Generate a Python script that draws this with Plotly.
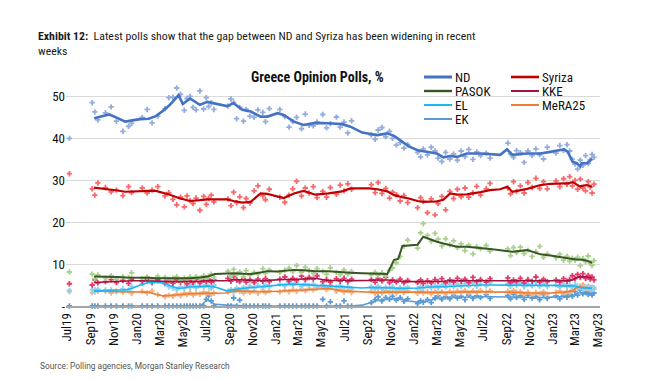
import plotly.graph_objects as go

# ---------------- data ----------------
trend_dates = [
    "2019-09-10","2019-10-01","2019-10-20","2019-11-10","2019-12-01","2019-12-20","2020-01-10","2020-02-01","2020-02-20","2020-03-10",
    "2020-03-28","2020-04-20","2020-05-01","2020-05-20","2020-06-15","2020-07-05","2020-07-25","2020-08-25","2020-09-12","2020-10-05",
    "2020-10-27","2020-11-22","2020-12-10","2021-01-06","2021-01-22","2021-02-18","2021-03-15","2021-04-16","2021-05-20","2021-06-25",
    "2021-07-17","2021-08-17","2021-09-05","2021-09-26","2021-10-22","2021-11-09","2021-11-20","2021-12-01","2021-12-18","2022-01-10",
    "2022-01-25","2022-02-05","2022-03-02","2022-03-19","2022-04-06","2022-04-24","2022-05-20","2022-06-25","2022-07-20","2022-08-16",
    "2022-09-03","2022-09-17","2022-10-26","2022-11-30","2022-12-26","2023-02-01","2023-02-10","2023-02-23","2023-03-06","2023-03-15",
    "2023-03-19","2023-04-02","2023-04-15",
]

nd_trend = [
    44.7,45.2,45.6,44.8,43.9,44.2,44.5,44.6,45.2,46.5,
    47.9,50.2,48.1,49.4,47.9,48.6,48.2,47.6,48.3,46.7,
    46.3,45.1,45.1,45.9,45.5,43.9,43.1,43.6,43.5,43.3,
    42.7,41.3,41.0,40.7,41.1,40.5,39.8,39.1,38.0,37.1,
    36.9,36.7,36.3,35.4,35.7,35.5,36.3,36.3,36.1,36.0,
    37.3,36.0,36.3,36.3,36.7,37.3,36.7,34.3,34.0,33.2,
    34.0,34.0,35.1,
]
syriza_trend = [
    28.2,28.0,27.8,27.5,27.2,27.3,27.3,27.4,27.4,27.0,
    26.5,25.7,25.5,25.0,25.2,25.4,25.4,25.4,25.0,24.6,
    24.8,26.8,26.7,26.0,25.7,26.8,27.4,26.5,26.8,27.3,
    28.0,28.0,28.0,27.8,27.3,26.4,26.1,25.9,25.6,25.0,
    24.8,24.8,24.9,25.3,26.8,26.5,26.6,27.1,27.6,27.8,
    28.4,27.2,27.9,28.8,29.1,29.2,29.2,29.5,29.0,28.4,
    28.6,28.8,28.4,
]
pasok_trend = [
    7.0,7.0,6.9,6.9,6.8,6.8,6.7,6.7,6.6,6.6,
    6.6,6.6,6.6,6.6,6.8,7.0,7.6,7.8,7.8,7.7,
    7.6,8.0,8.3,8.2,8.3,8.6,8.5,8.3,8.3,8.0,
    7.9,7.8,7.7,7.6,7.6,11.0,11.2,14.3,14.5,14.6,
    16.5,16.1,15.3,14.9,14.5,14.1,14.1,13.9,13.6,13.3,
    13.1,12.9,13.3,12.3,12.0,11.4,11.3,11.2,11.1,11.1,
    11.0,10.8,10.3,
]
kke_trend = [
    5.6,5.7,5.8,5.9,6.0,6.0,6.0,6.0,6.0,5.9,
    5.8,5.8,5.8,5.8,5.9,6.0,6.0,6.0,6.3,6.2,
    6.0,6.0,6.1,6.3,6.3,6.3,6.5,6.6,6.0,6.2,
    6.0,6.0,6.1,6.2,6.2,6.0,6.0,5.9,5.8,5.8,
    5.8,5.8,5.9,5.9,6.0,6.0,6.0,6.0,6.0,6.0,
    6.0,6.0,6.0,6.0,6.0,6.0,6.0,6.2,6.8,7.0,
    7.0,6.9,6.6,
]
el_trend = [
    3.6,3.7,3.7,3.8,3.8,4.2,5.0,5.6,5.6,5.5,
    4.8,4.2,4.3,4.6,4.6,4.8,4.5,3.6,3.9,4.2,
    4.4,4.6,4.8,5.0,5.1,5.2,5.0,4.9,4.8,4.6,
    4.4,4.3,4.4,4.4,4.3,4.3,4.2,4.2,4.2,4.3,
    4.4,4.5,4.6,4.6,4.7,4.8,4.9,5.0,5.0,5.0,
    5.0,5.0,5.0,5.0,4.9,4.8,4.8,4.8,4.6,4.4,
    4.3,4.3,4.2,
]
mera_trend = [
    3.6,3.5,3.5,3.4,3.4,3.4,3.4,3.3,2.8,2.4,
    2.5,2.7,2.8,2.9,3.0,3.0,3.0,3.1,3.6,3.5,
    3.4,3.4,3.4,3.5,3.5,3.6,3.8,4.0,4.2,3.6,
    3.5,3.4,3.3,3.2,3.3,3.3,3.4,3.4,3.4,3.3,
    3.3,3.2,3.2,3.2,3.3,3.3,3.4,3.4,3.4,3.4,
    3.4,3.3,3.1,3.0,3.1,3.3,3.4,3.6,4.4,4.6,
    4.5,4.4,4.2,
]
ek_trend = [
    0,0,0,0,0,0,0,0,0,0,
    0,0,0,0,0,1.5,0.4,0.2,0.1,0,
    0,0,0,0,0,0,0,0,0,0,
    0,0.2,0.8,1.3,1.6,1.8,1.8,1.6,1.2,0.9,
    1.0,1.2,1.8,2.0,2.1,2.1,2.2,2.2,2.2,2.2,
    2.2,2.1,2.1,2.0,2.1,2.2,2.3,2.5,3.0,3.2,
    3.1,3.0,2.9,
]

poll_dates = [
    "2019-07-07",
    "2019-09-05","2019-09-12","2019-09-20","2019-10-10","2019-10-25","2019-11-08","2019-11-25","2019-12-10","2019-12-18",
    "2020-01-15","2020-01-28","2020-02-10","2020-02-25","2020-03-15","2020-03-25","2020-04-05","2020-04-15","2020-04-25","2020-05-05",
    "2020-05-12","2020-05-20","2020-05-28","2020-06-05","2020-06-15","2020-06-25","2020-07-02","2020-07-08","2020-07-15","2020-07-22",
    "2020-08-28","2020-09-05","2020-09-12","2020-09-20","2020-09-28","2020-10-08","2020-10-15","2020-10-25","2020-11-05","2020-11-15",
    "2020-11-28","2020-12-05","2020-12-15",
    "2021-01-12","2021-01-25","2021-02-05","2021-02-15","2021-02-25","2021-03-10","2021-03-20","2021-03-30","2021-04-10","2021-04-20",
    "2021-05-05","2021-05-15","2021-05-25","2021-06-10","2021-06-20","2021-06-30","2021-07-10","2021-07-20","2021-09-10","2021-09-20",
    "2021-09-28","2021-10-08","2021-10-18","2021-10-28","2021-11-05","2021-11-15","2021-11-25","2021-12-05","2021-12-15",
    "2022-01-10","2022-01-18","2022-01-25","2022-02-05","2022-02-15","2022-02-25","2022-03-05","2022-03-15","2022-03-25","2022-04-05",
    "2022-04-15","2022-04-25","2022-05-05","2022-05-15","2022-05-25","2022-06-05","2022-06-15","2022-06-25","2022-07-10","2022-07-20",
    "2022-09-05","2022-09-12","2022-09-20","2022-09-28","2022-10-08","2022-10-18","2022-10-28","2022-11-08","2022-11-18","2022-11-28",
    "2022-12-08","2022-12-18",
    "2023-01-10","2023-01-20","2023-01-30","2023-02-08","2023-02-15","2023-02-22","2023-03-01","2023-03-08","2023-03-15","2023-03-22",
    "2023-03-29","2023-04-05","2023-04-10","2023-04-15","2023-04-20",
]

nd_polls = [
    39.9,
    48.4,46.2,44.3,46.0,47.4,44.0,41.6,42.8,43.5,
    44.9,46.8,43.6,45.2,47.0,49.6,49.7,51.9,50.4,46.6,
    49.4,49.9,47.3,46.7,51.2,46.9,49.6,47.5,48.4,46.8,
    47.6,49.3,48.5,44.6,47.3,44.0,46.8,45.2,44.9,46.7,
    46.1,43.9,47.0,
    46.8,45.1,42.6,43.9,44.9,42.2,45.7,43.0,42.9,43.8,
    45.6,42.4,43.4,45.0,42.6,43.8,41.2,44.1,40.7,39.7,
    41.9,42.5,40.3,41.6,39.9,38.3,38.9,37.6,38.4,
    36.6,35.5,37.4,36.0,37.8,36.9,35.2,34.4,36.6,35.0,
    36.2,34.7,36.9,35.6,37.3,34.9,36.7,35.8,36.4,35.2,
    38.8,36.2,35.4,37.0,36.5,34.2,36.9,35.8,37.4,36.0,
    35.0,37.8,
    36.4,38.2,37.0,38.4,36.9,34.9,33.8,32.6,34.7,33.5,
    35.8,33.9,34.8,36.1,35.4,
]
syriza_polls = [
    31.5,
    27.9,26.4,29.3,28.2,27.2,27.6,26.3,28.4,27.0,
    28.1,26.9,27.6,28.4,26.2,27.0,25.4,24.1,25.9,23.6,
    26.2,25.1,24.4,25.7,22.8,26.1,24.2,25.6,26.4,24.8,
    25.5,23.9,27.1,24.6,26.0,23.4,25.6,24.5,27.4,28.6,
    26.2,25.3,27.8,
    25.9,24.7,26.4,27.9,29.7,26.2,28.1,26.9,28.4,25.8,
    27.3,25.9,28.2,26.6,28.8,27.4,29.1,27.8,28.9,27.0,
    29.4,26.8,28.0,25.7,27.1,26.5,25.0,26.3,24.6,
    23.4,25.8,24.9,22.2,25.5,21.7,24.4,26.1,22.9,27.3,
    25.6,27.8,26.0,28.1,25.9,26.9,28.5,26.4,27.9,29.2,
    28.1,26.7,29.6,27.3,28.6,26.9,29.4,28.2,30.4,28.0,
    29.6,27.9,
    29.8,28.4,30.3,29.0,30.8,28.6,29.9,27.8,30.2,28.1,
    27.4,29.6,28.3,26.9,29.0,
]
pasok_polls = [
    8.1,
    7.6,6.5,7.4,6.6,7.2,6.4,7.0,6.8,7.9,
    6.5,6.9,6.2,7.1,6.8,6.3,6.6,7.0,6.1,6.7,
    6.3,6.9,6.4,7.0,6.6,7.2,6.5,7.1,7.6,6.8,
    8.3,7.2,8.7,7.5,8.1,7.0,8.4,7.3,8.0,7.6,
    8.9,7.8,8.6,
    8.0,8.5,9.0,8.2,9.6,8.1,9.2,8.4,7.8,8.9,
    8.3,7.6,9.1,8.0,7.5,8.6,7.6,8.2,7.4,8.0,
    7.3,7.9,7.2,8.5,9.1,10.3,11.8,14.2,15.7,
    13.8,17.4,19.6,16.8,15.4,17.3,15.9,14.3,16.0,14.6,
    15.5,13.9,14.8,13.2,14.5,12.4,14.1,13.6,14.4,13.1,
    13.6,12.0,13.9,12.7,14.0,12.5,13.3,11.8,12.9,14.2,
    11.6,12.4,
    11.5,12.3,10.9,11.8,10.7,11.4,10.9,11.6,9.6,11.3,
    10.6,11.9,10.2,9.7,10.8,
]
kke_polls = [
    5.3,
    5.0,6.2,5.5,5.8,6.3,5.6,6.1,5.4,6.4,
    5.9,6.4,5.7,6.2,5.5,6.0,5.4,6.2,5.7,6.1,
    5.3,6.0,5.6,6.3,5.5,6.1,5.8,6.4,5.7,6.2,
    6.6,5.9,7.0,6.2,5.8,6.5,5.7,6.3,5.6,6.4,
    5.9,6.5,5.8,
    6.4,6.9,5.9,6.6,6.1,7.1,6.3,6.8,6.4,7.2,
    5.8,6.3,5.7,6.5,5.9,6.6,5.8,6.4,6.3,5.7,
    6.6,6.0,6.8,5.6,6.2,5.7,6.4,5.5,6.1,
    5.6,6.2,5.4,6.0,5.5,6.3,5.8,6.5,5.5,6.2,
    5.7,6.6,5.9,6.4,5.6,6.8,5.8,6.3,5.7,6.5,
    6.7,5.6,6.2,5.8,6.6,5.5,6.3,5.9,6.9,5.7,
    6.4,5.8,
    6.2,5.7,6.5,5.9,6.3,7.2,6.5,7.5,6.8,7.7,
    6.6,7.3,6.4,6.9,6.2,
]
el_polls = [
    3.7,
    3.9,3.3,4.0,3.5,3.8,3.4,4.1,3.7,4.6,
    5.3,5.8,5.4,6.0,5.2,4.6,4.3,3.9,4.6,4.2,
    4.8,4.4,5.0,4.3,4.9,4.5,5.1,4.6,4.2,5.0,
    3.5,3.9,3.4,4.3,3.8,4.5,4.0,4.7,4.2,4.9,
    4.4,5.0,4.6,
    5.2,4.8,5.5,5.0,5.6,4.7,5.3,4.9,5.2,4.6,
    5.1,4.5,4.9,4.4,4.9,4.3,4.6,4.1,4.6,4.1,
    4.7,4.0,4.5,4.2,4.6,3.9,4.4,4.0,4.5,
    4.1,4.6,4.2,4.8,4.3,4.9,4.4,5.0,4.5,5.1,
    4.6,5.2,4.7,5.3,4.8,5.4,4.7,5.2,4.8,5.5,
    5.3,4.7,5.5,4.9,5.4,4.6,5.2,4.8,5.6,4.7,
    5.3,4.6,
    5.1,4.5,5.2,4.6,5.0,4.4,5.1,4.3,4.8,4.0,
    4.6,4.1,4.5,3.9,4.4,
]
mera_polls = [
    3.4,
    3.2,3.9,3.5,3.8,3.1,3.6,3.3,3.7,3.0,
    3.5,3.1,3.6,2.7,2.2,2.6,2.3,2.9,2.5,3.1,
    2.7,3.2,2.6,3.0,2.8,3.3,2.9,3.2,2.7,3.1,
    3.4,3.9,3.3,3.8,3.5,3.1,3.7,3.2,3.6,3.0,
    3.7,3.2,3.6,
    3.3,3.8,3.4,3.9,3.5,4.0,3.6,4.2,3.8,4.3,
    4.5,3.9,4.4,3.5,3.9,3.3,3.7,3.2,3.5,3.0,
    3.4,3.1,3.6,3.2,3.5,3.1,3.7,3.2,3.6,
    3.0,3.5,3.1,3.4,2.9,3.5,3.0,3.4,2.9,3.5,
    3.1,3.6,3.2,3.7,3.1,3.6,3.2,3.7,3.3,3.6,
    3.5,3.1,3.7,3.2,3.4,2.8,3.3,2.7,3.2,2.9,
    3.4,2.8,
    3.2,3.6,3.0,3.5,3.1,3.8,4.3,4.8,4.4,5.1,
    4.2,4.7,3.9,4.5,4.0,
]
ek_polls = [
    0,
    0,0,0,0,0,0,0,0,0,
    0,0,0,0,0,0,0,0,0,0,
    0,0,0,0,0,0,1.6,2.4,1.2,0,
    0,0,1.9,0,1.4,0,0,0,0,0,
    0,0,0,
    0,0,0,0,0,0,0,0,0,0,
    1.6,0,1.0,0,0,1.2,0,0,0.8,1.5,
    2.2,1.2,2.0,1.6,2.3,1.4,2.0,1.1,1.7,
    0.6,1.2,0.9,1.5,0.8,1.9,2.4,1.6,2.2,1.7,
    2.5,1.9,2.3,1.5,2.6,1.8,2.4,2.0,2.7,1.8,
    2.5,1.7,2.8,2.0,2.4,1.6,2.6,1.9,2.3,1.5,
    2.7,1.8,
    2.4,1.7,2.5,2.1,2.8,2.3,3.4,2.6,3.8,2.9,
    3.3,2.7,3.5,2.6,3.1,
]

party_names = ["ND", "Syriza", "PASOK", "KKE", "EL", "MeRA25", "EK"]
y_ticks = [0, 10, 20, 30, 40, 50]
y_tick_labels = ["-", "10", "20", "30", "40", "50"]

# ---------------- styling ----------------
FONT = "Liberation Sans Narrow, Roboto Condensed, Roboto, Arial Narrow, sans-serif"
line_colors = {"ND": "#4472C4", "Syriza": "#C00000", "PASOK": "#375623", "KKE": "#A3123F",
               "EL": "#1FB5EE", "MeRA25": "#ED7D31", "EK": "#5B9BD5"}
dot_colors = {"ND": "#93AEDD", "Syriza": "#F8696B", "PASOK": "#A9D18E", "KKE": "#E23B6A",
              "EL": "#8ED1F2", "MeRA25": "#F4B183", "EK": "#5B9BD5"}
line_widths = {"ND": 2.6, "Syriza": 2.2, "PASOK": 2.0, "KKE": 1.6, "EL": 1.6, "MeRA25": 1.6, "EK": 1.6}

polls = {"ND": nd_polls, "Syriza": syriza_polls, "PASOK": pasok_polls, "KKE": kke_polls,
         "EL": el_polls, "MeRA25": mera_polls, "EK": ek_polls}
trends = {"ND": nd_trend, "Syriza": syriza_trend, "PASOK": pasok_trend, "KKE": kke_trend,
          "EL": el_trend, "MeRA25": mera_trend, "EK": ek_trend}

for k in party_names:
    if len(polls[k]) != len(poll_dates):
        raise ValueError(f"poll length mismatch {k}: {len(polls[k])} vs {len(poll_dates)}")
    if len(trends[k]) != len(trend_dates):
        raise ValueError(f"trend length mismatch {k}: {len(trends[k])} vs {len(trend_dates)}")

fig = go.Figure()

draw_order = ["EK", "MeRA25", "EL", "KKE", "PASOK", "Syriza", "ND"]
for k in draw_order:
    fig.add_trace(go.Scatter(
        x=poll_dates, y=polls[k], mode="markers", showlegend=False, cliponaxis=False,
        marker=dict(symbol="cross", size=4.5, color=dot_colors[k], line=dict(width=0)),
        name=k + " polls", hoverinfo="skip"))
for k in draw_order:
    fig.add_trace(go.Scatter(
        x=trend_dates, y=trends[k], mode="lines", showlegend=False, cliponaxis=False,
        line=dict(color=line_colors[k], width=line_widths[k]), name=k))

# ---------------- layout ----------------
# the page body adds an 8px offset; margins are reduced to compensate
OFF = 8
W, H = 646, 380
PLOT_X0, PLOT_Y0 = 66, 306   # plot origin in screen pixels
PW, PH = 534, 231
L, T = PLOT_X0 - OFF, PLOT_Y0 - PH - OFF
R, B = W - L - PW, H - T - PH


def px_x(p):
    return (p - PLOT_X0) / PW


def px_y(p):
    return (PLOT_Y0 - p) / PH


shapes = []
annotations = []

# white legend backdrop (hides the gridline behind the legend)
shapes.append(dict(type="rect", xref="x domain", yref="y domain", layer="below",
                   x0=px_x(413), x1=px_x(591), y0=px_y(127), y1=px_y(69),
                   fillcolor="white", line=dict(width=0)))

col_x = [424, 511]
for i, k in enumerate(party_names):
    c, r = i % 2, i // 2
    yy = 77 + 14 * r
    x0 = col_x[c]
    shapes.append(dict(type="line", xref="paper", yref="paper", layer="above",
                       x0=px_x(x0), x1=px_x(x0 + 28), y0=px_y(yy), y1=px_y(yy),
                       line=dict(color=line_colors[k], width=line_widths[k] + 0.4)))
    annotations.append(dict(text=k, xref="paper", yref="paper", x=px_x(x0 + 29), y=px_y(yy),
                            xanchor="left", yanchor="middle", showarrow=False,
                            font=dict(family=FONT, size=13, color="#111111")))

annotations.append(dict(text="<b>Greece Opinion Polls, %</b>", xref="paper", yref="paper",
                        x=px_x(317), y=px_y(77), xanchor="center", yanchor="middle",
                        showarrow=False, font=dict(family=FONT, size=14, color="#111111")))
annotations.append(dict(text="Source: Polling agencies, Morgan Stanley Research", xref="paper", yref="paper",
                        x=px_x(38), y=px_y(366), xanchor="left", yanchor="middle",
                        showarrow=False, font=dict(family="Roboto, sans-serif", size=8.4, color="#555555")))

fig.update_layout(
    width=W, height=H,
    margin=dict(l=L, r=R, t=T, b=B),
    paper_bgcolor="white", plot_bgcolor="white",
    showlegend=False,
    title=dict(text="<b>Exhibit 12:</b>  Latest polls show that the gap between ND and Syriza has been widening in recent<br>weeks",
               xref="container", yref="container", x=(38 - OFF) / W, y=1 - 32 / H,
               xanchor="left", yanchor="top",
               font=dict(family=FONT, size=11.8, color="#1a1a1a")),
    shapes=shapes, annotations=annotations,
    xaxis=dict(type="date", range=["2019-06-28", "2023-05-06"],
               tick0="2019-07-01", dtick="M2", tickformat="%b%y", tickangle=-90,
               showgrid=False, showline=True, linecolor="#A6A6A6", linewidth=2,
               ticks="", tickfont=dict(family=FONT, size=13, color="#111111")),
    yaxis=dict(range=[0, 55], tickvals=y_ticks, ticktext=y_tick_labels,
               showgrid=True, gridcolor="#D9D9D9", gridwidth=1.3, zeroline=False,
               showline=False, ticks="", tickfont=dict(family=FONT, size=13, color="#111111")),
)

fig.write_html("out.html")
